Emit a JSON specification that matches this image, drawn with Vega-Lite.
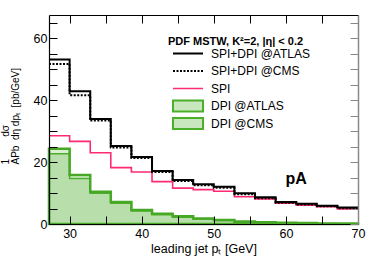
{
  "$schema": "https://vega.github.io/schema/vega-lite/v6.json",
  "width": 309,
  "height": 209,
  "autosize": "none",
  "padding": {"left": 49, "top": 15, "right": 24, "bottom": 35},
  "config": {"view": {"stroke": null}, "font": "Liberation Sans"},
  "data": {"values": [
    {"x": 27.14, "s": "SPI+DPI @ATLAS", "y": 53.1}, {"x": 30, "s": "SPI+DPI @ATLAS", "y": 42.9}, {"x": 32.86, "s": "SPI+DPI @ATLAS", "y": 33.9}, {"x": 35.71, "s": "SPI+DPI @ATLAS", "y": 25.2},
    {"x": 38.57, "s": "SPI+DPI @ATLAS", "y": 21.6}, {"x": 41.43, "s": "SPI+DPI @ATLAS", "y": 17.1}, {"x": 44.29, "s": "SPI+DPI @ATLAS", "y": 14.2}, {"x": 47.14, "s": "SPI+DPI @ATLAS", "y": 12.8},
    {"x": 50, "s": "SPI+DPI @ATLAS", "y": 12.0}, {"x": 52.86, "s": "SPI+DPI @ATLAS", "y": 9.9}, {"x": 55.71, "s": "SPI+DPI @ATLAS", "y": 8.6}, {"x": 58.57, "s": "SPI+DPI @ATLAS", "y": 7.1},
    {"x": 61.43, "s": "SPI+DPI @ATLAS", "y": 6.5}, {"x": 64.29, "s": "SPI+DPI @ATLAS", "y": 5.9}, {"x": 67.14, "s": "SPI+DPI @ATLAS", "y": 5.3}, {"x": 70, "s": "SPI+DPI @ATLAS", "y": 5.3},
    {"x": 27.14, "s": "SPI+DPI @CMS", "y": 51.7}, {"x": 30, "s": "SPI+DPI @CMS", "y": 41.6}, {"x": 32.86, "s": "SPI+DPI @CMS", "y": 33.4}, {"x": 35.71, "s": "SPI+DPI @CMS", "y": 24.7},
    {"x": 38.57, "s": "SPI+DPI @CMS", "y": 21.3}, {"x": 41.43, "s": "SPI+DPI @CMS", "y": 16.8}, {"x": 44.29, "s": "SPI+DPI @CMS", "y": 13.9}, {"x": 47.14, "s": "SPI+DPI @CMS", "y": 12.5},
    {"x": 50, "s": "SPI+DPI @CMS", "y": 11.7}, {"x": 52.86, "s": "SPI+DPI @CMS", "y": 9.6}, {"x": 55.71, "s": "SPI+DPI @CMS", "y": 8.3}, {"x": 58.57, "s": "SPI+DPI @CMS", "y": 6.9},
    {"x": 61.43, "s": "SPI+DPI @CMS", "y": 6.3}, {"x": 64.29, "s": "SPI+DPI @CMS", "y": 5.7}, {"x": 67.14, "s": "SPI+DPI @CMS", "y": 5.1}, {"x": 70, "s": "SPI+DPI @CMS", "y": 5.1},
    {"x": 27.14, "s": "SPI", "y": 28.5}, {"x": 30, "s": "SPI", "y": 26.7}, {"x": 32.86, "s": "SPI", "y": 23.0}, {"x": 35.71, "s": "SPI", "y": 18.2},
    {"x": 38.57, "s": "SPI", "y": 16.8}, {"x": 41.43, "s": "SPI", "y": 13.7}, {"x": 44.29, "s": "SPI", "y": 11.6}, {"x": 47.14, "s": "SPI", "y": 11.1},
    {"x": 50, "s": "SPI", "y": 10.6}, {"x": 52.86, "s": "SPI", "y": 8.8}, {"x": 55.71, "s": "SPI", "y": 8.1}, {"x": 58.57, "s": "SPI", "y": 6.7},
    {"x": 61.43, "s": "SPI", "y": 6.1}, {"x": 64.29, "s": "SPI", "y": 5.6}, {"x": 67.14, "s": "SPI", "y": 4.9}, {"x": 70, "s": "SPI", "y": 4.9},
    {"x": 27.14, "s": "DPI @ATLAS", "y": 24.3}, {"x": 30, "s": "DPI @ATLAS", "y": 15.8}, {"x": 32.86, "s": "DPI @ATLAS", "y": 10.4}, {"x": 35.71, "s": "DPI @ATLAS", "y": 7.1},
    {"x": 38.57, "s": "DPI @ATLAS", "y": 4.5}, {"x": 41.43, "s": "DPI @ATLAS", "y": 3.3}, {"x": 44.29, "s": "DPI @ATLAS", "y": 2.5}, {"x": 47.14, "s": "DPI @ATLAS", "y": 1.8},
    {"x": 50, "s": "DPI @ATLAS", "y": 1.3}, {"x": 52.86, "s": "DPI @ATLAS", "y": 0.8}, {"x": 55.71, "s": "DPI @ATLAS", "y": 0.55}, {"x": 58.57, "s": "DPI @ATLAS", "y": 0.4},
    {"x": 61.43, "s": "DPI @ATLAS", "y": 0.3}, {"x": 64.29, "s": "DPI @ATLAS", "y": 0.2}, {"x": 67.14, "s": "DPI @ATLAS", "y": 0.15}, {"x": 70, "s": "DPI @ATLAS", "y": 0.15},
    {"x": 27.14, "s": "DPI @CMS", "y": 22.7}, {"x": 30, "s": "DPI @CMS", "y": 14.7}, {"x": 32.86, "s": "DPI @CMS", "y": 9.9}, {"x": 35.71, "s": "DPI @CMS", "y": 6.7},
    {"x": 38.57, "s": "DPI @CMS", "y": 4.2}, {"x": 41.43, "s": "DPI @CMS", "y": 3.0}, {"x": 44.29, "s": "DPI @CMS", "y": 2.2}, {"x": 47.14, "s": "DPI @CMS", "y": 1.6},
    {"x": 50, "s": "DPI @CMS", "y": 1.1}, {"x": 52.86, "s": "DPI @CMS", "y": 0.65}, {"x": 55.71, "s": "DPI @CMS", "y": 0.4}, {"x": 58.57, "s": "DPI @CMS", "y": 0.3},
    {"x": 61.43, "s": "DPI @CMS", "y": 0.2}, {"x": 64.29, "s": "DPI @CMS", "y": 0.15}, {"x": 67.14, "s": "DPI @CMS", "y": 0.1}, {"x": 70, "s": "DPI @CMS", "y": 0.1}
  ]},
  "layer": [
    {
      "encoding": {
        "x": {"field": "x", "type": "quantitative", "scale": {"domain": [27.14, 70], "nice": false, "zero": false},
          "axis": {"orient": "bottom", "values": [30, 35, 40, 45, 50, 55, 60, 65, 70], "labelExpr": "datum.value % 10 === 0 ? datum.label : ''",
            "grid": false, "tickSize": -8, "ticks": true, "tickColor": "black", "tickWidth": 1, "domainColor": "black", "domainWidth": 1.2, "zindex": 1,
            "labelPadding": 11, "labelColor": "black", "labelFontSize": 12.5, "labelFont": "Liberation Sans", "labelFlush": false, "labelOverlap": false,
            "title": "leading jet pₜ [GeV]", "titleFontSize": 12.5, "titleFontWeight": "normal", "titleFont": "Liberation Sans", "titleColor": "black", "titlePadding": 3,
            "encode": {"ticks": {"update": {"y2": {"signal": "datum.value % 10 === 0 ? -8 : -5"}}}}}},
        "y": {"field": "y", "type": "quantitative", "scale": {"domain": [0, 67.5], "nice": false},
          "axis": {"orient": "left", "values": [0, 5, 10, 15, 20, 25, 30, 35, 40, 45, 50, 55, 60, 65], "labelExpr": "datum.value % 20 === 0 ? datum.label : ''",
            "grid": false, "tickSize": -8, "ticks": true, "tickColor": "black", "tickWidth": 1, "domainColor": "black", "domainWidth": 1.2, "zindex": 1,
            "labelPadding": 10, "labelColor": "black", "labelFontSize": 12.5, "labelFont": "Liberation Sans", "labelOverlap": false,
            "title": ["1\u00a0\u00a0\u00a0\u00a0\u00a0\u00a0\u00a0\u00a0dσ", "APb\u00a0\u00a0dη dpₜ\u00a0\u00a0[pb/GeV]"],
            "titleFontSize": 10, "titleFontWeight": "normal", "titleFont": "Liberation Sans", "titleColor": "black",
            "titleAlign": "left", "titleBaseline": "alphabetic", "titleAngle": 270, "titleX": -41, "titleY": 149, "titleLineHeight": 10,
            "encode": {"ticks": {"update": {"x2": {"signal": "datum.value % 20 === 0 ? 8 : 5"}}}}}},
        "color": {"field": "s", "type": "nominal",
          "scale": {"domain": ["SPI+DPI @ATLAS", "SPI+DPI @CMS", "SPI", "DPI @ATLAS", "DPI @CMS"], "range": ["#000000", "#000000", "#ff2a70", "#4caf2a", "#4caf2a"]},
          "legend": {"orient": "none", "legendX": 119, "legendY": 21, "padding": 0, "gridAlign": "all",
            "title": "PDF MSTW, K²=2, |η| < 0.2", "titleFont": "Liberation Sans", "titleFontSize": 11, "titleFontWeight": "bold", "titleColor": "black", "titlePadding": 0.5, "titleLimit": 300,
            "labelFont": "Liberation Sans", "labelFontSize": 12, "labelColor": "black", "labelLimit": 300,
            "symbolSize": 36, "symbolOffset": 14, "labelOffset": 17, "rowPadding": -2.5,
            "encode": {"symbols": {"update": {
              "shape": {"signal": "(datum.value === 'DPI @ATLAS' || datum.value === 'DPI @CMS') ? 'M-5,-1.8H5V1.8H-5Z' : 'M-5,0H5'"},
              "fill": {"signal": "(datum.value === 'DPI @ATLAS' || datum.value === 'DPI @CMS') ? '#cfe9c0' : 'transparent'"},
              "fillOpacity": {"signal": "(datum.value === 'DPI @ATLAS' || datum.value === 'DPI @CMS') ? 0.3 : 0"},
              "stroke": {"signal": "datum.value === 'SPI' ? '#ff2a70' : ((datum.value === 'DPI @ATLAS' || datum.value === 'DPI @CMS') ? '#4caf2a' : '#000000')"},
              "strokeWidth": {"signal": "datum.value === 'SPI' ? 1.5 : 2"},
              "strokeDash": {"signal": "datum.value === 'SPI+DPI @CMS' ? [2, 1.5] : []"},
              "opacity": {"value": 1},
              "size": {"value": 36}
            }}}}}
      },
      "layer": [
        {"transform": [{"filter": "datum.s === 'DPI @CMS'"}], "mark": {"type": "area", "interpolate": "step-after", "fillOpacity": 0.24, "stroke": "#4caf2a", "strokeWidth": 1.5}},
        {"transform": [{"filter": "datum.s === 'DPI @ATLAS'"}], "mark": {"type": "area", "interpolate": "step-after", "fillOpacity": 0.2, "stroke": "#46a824", "strokeWidth": 2.5}},
        {"transform": [{"filter": "datum.s === 'SPI'"}], "mark": {"type": "line", "interpolate": "step-after", "strokeWidth": 1.6}},
        {"transform": [{"filter": "datum.s === 'SPI+DPI @CMS'"}], "mark": {"type": "line", "interpolate": "step-after", "strokeWidth": 2, "strokeDash": [2, 1.5]}},
        {"transform": [{"filter": "datum.s === 'SPI+DPI @ATLAS'"}], "mark": {"type": "line", "interpolate": "step-after", "strokeWidth": 2}}
      ]
    },
    {
      "mark": {"type": "point", "opacity": 0},
      "encoding": {
        "x": {"field": "x", "type": "quantitative", "scale": {"domain": [27.14, 70], "nice": false, "zero": false},
          "axis": {"orient": "top", "values": [30, 35, 40, 45, 50, 55, 60, 65, 70], "labels": false, "title": null, "grid": false, "tickSize": -8, "tickColor": "black",
            "domainColor": "black", "domainWidth": 1.2, "zindex": 1,
            "encode": {"ticks": {"update": {"y2": {"signal": "datum.value % 10 === 0 ? 8 : 5"}}}}}},
        "y": {"field": "y", "type": "quantitative", "scale": {"domain": [0, 67.5], "nice": false},
          "axis": {"orient": "right", "values": [0, 5, 10, 15, 20, 25, 30, 35, 40, 45, 50, 55, 60, 65], "labels": false, "title": null, "grid": false, "tickSize": -8, "tickColor": "#888888",
            "domainColor": "#888888", "domainWidth": 1.5, "zindex": 1,
            "encode": {"ticks": {"update": {"x2": {"signal": "datum.value % 20 === 0 ? -8 : -5"}}}}}}
      }
    },
    {
      "data": {"values": [{"x": 61.43, "y": 14.5, "t": "pA"}]},
      "mark": {"type": "text", "font": "Liberation Sans", "fontSize": 16, "fontWeight": "bold", "color": "black", "align": "center", "baseline": "middle"},
      "encoding": {
        "x": {"field": "x", "type": "quantitative", "axis": null},
        "y": {"field": "y", "type": "quantitative", "axis": null},
        "text": {"field": "t"}
      }
    }
  ],
  "resolve": {"axis": {"x": "independent", "y": "independent"}}
}
